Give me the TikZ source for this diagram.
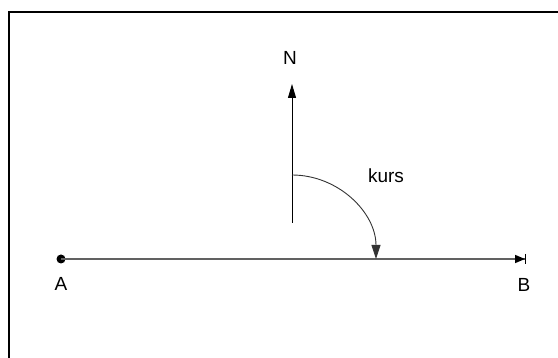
\documentclass[tikz,border=0pt]{standalone}
\usepackage{fontspec}
\setmainfont{Liberation Sans}
\usetikzlibrary{arrows.meta}
\begin{document}
\begin{tikzpicture}[x=1pt,y=-1pt,
  lbl/.style={font=\fontsize{19}{19}\selectfont, inner sep=0pt, anchor=center},
  frame/.style={line width=2pt, black},
  axis/.style={line width=1.5pt, black!62},
  north/.style={line width=1pt, black, -{Triangle[length=14pt,width=8pt]}},
  course/.style={line width=0.9pt, black!80, -{Triangle[length=14pt,width=9pt]}},
  dot/.style={circle, fill=black, inner sep=0pt, minimum size=9pt}]
\useasboundingbox (0,0) rectangle (558,358);
\draw[frame] (9,358) -- (9,12.3) -- (558,12.3);
\node[dot] (A) at (61,259) {};
\coordinate (B) at (526,259);
\draw[axis, -{Triangle[length=10pt,width=8pt,black]Bar[width=10pt,line width=1pt,black]}] (A.center) -- (B);
\coordinate (S) at (292,223);
\coordinate (Ntip) at (292,84);
\draw[north] (S) -- (Ntip);
\coordinate (C) at (292,175);
\draw[course] (C) arc[start angle=-90, end angle=0, radius=84];
\node[lbl] (Nl) at (290,57.5) {N};
\node[lbl] (Al) at (61,284) {A};
\node[lbl] (Bl) at (524,285) {B};
\node[lbl] (kurs) at (386,176) {kurs};
\end{tikzpicture}
\end{document}
